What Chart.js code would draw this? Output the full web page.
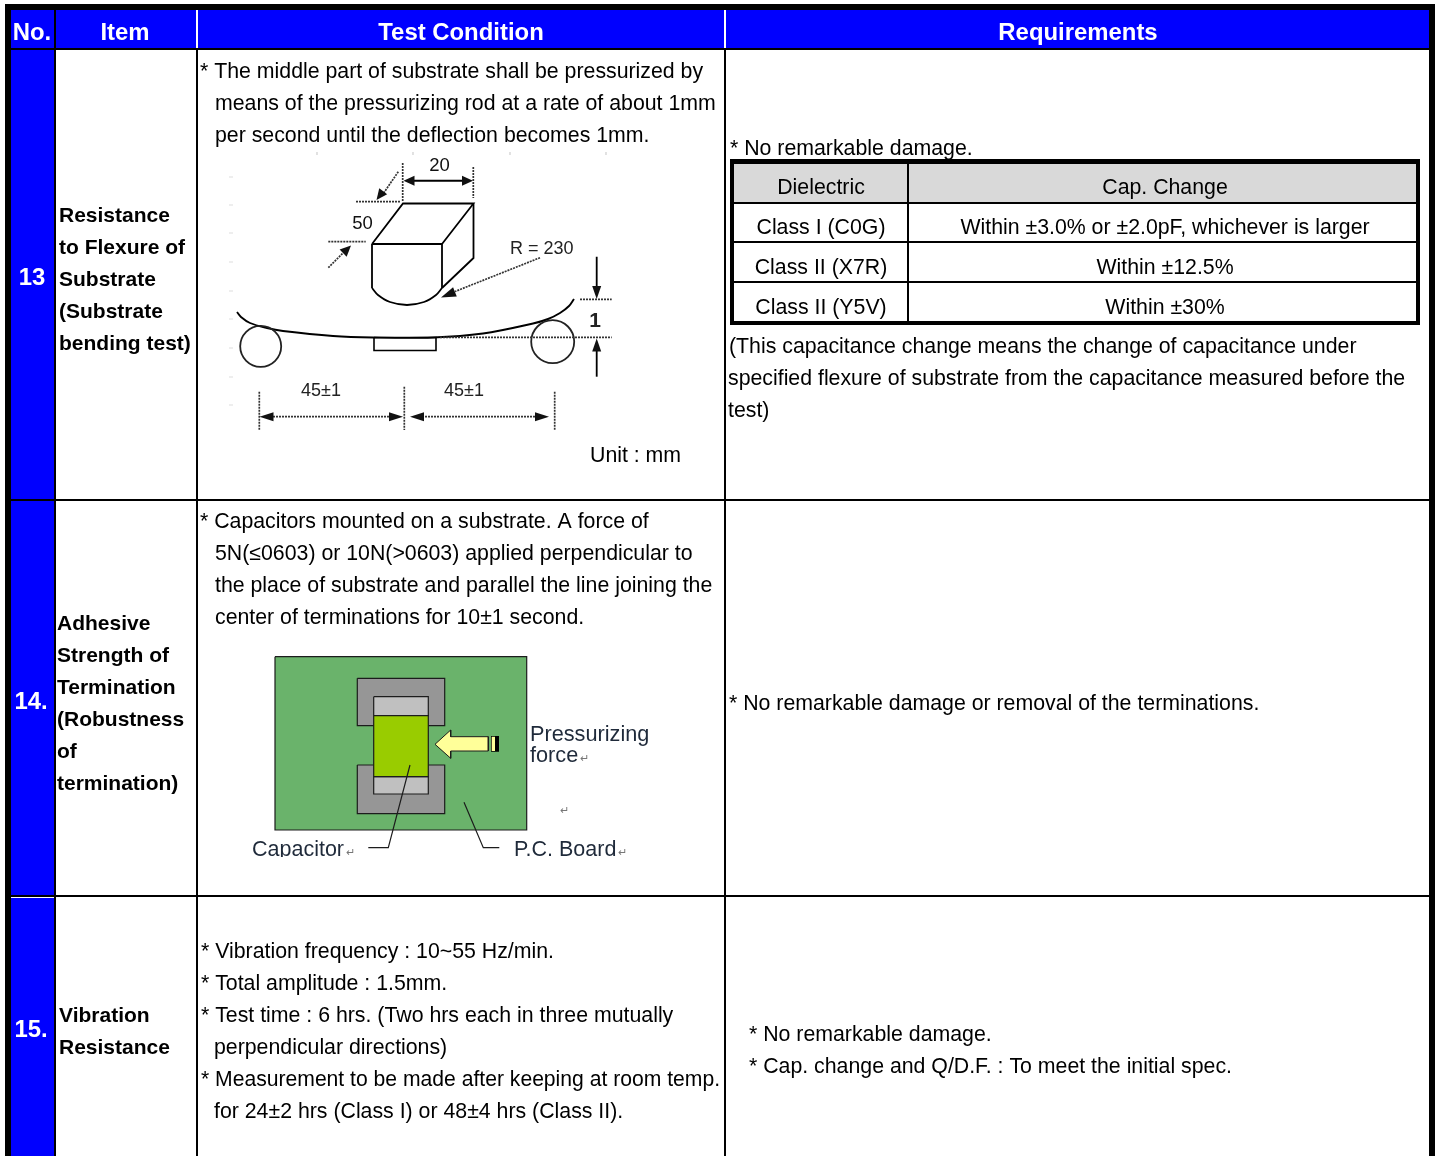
<!DOCTYPE html>
<html><head><meta charset="utf-8">
<style>html,body{margin:0;padding:0;background:#fff}canvas{display:block}</style>
<script src="https://cdn.jsdelivr.net/npm/chart.js@4/dist/chart.umd.min.js"></script>
</head><body><canvas id="c" width="1437" height="1156"></canvas>
<script>
// ---------- content ----------
const headers = ["No.", "Item", "Test Condition", "Requirements"];
const rowNumbers = ["13", "14.", "15."];
const item13 = ["Resistance", "to Flexure of", "Substrate", "(Substrate", "bending test)"];
const item14 = ["Adhesive", "Strength of", "Termination", "(Robustness", "of", "termination)"];
const item15 = ["Vibration", "Resistance"];
const cond13 = ["* The middle part of substrate shall be pressurized by", "means of the pressurizing rod at a rate of about 1mm", "per second until the deflection becomes 1mm."];
const cond14 = ["* Capacitors mounted on a substrate. A force of", "5N(≤0603) or 10N(>0603) applied perpendicular to", "the place of substrate and parallel the line joining the", "center of terminations for 10±1 second."];
const cond15 = ["* Vibration frequency : 10~55 Hz/min.", "* Total amplitude : 1.5mm.", "* Test time : 6 hrs. (Two hrs each in three mutually", "perpendicular directions)", "* Measurement to be made after keeping at room temp.", "for 24±2 hrs (Class I) or 48±4 hrs (Class II)."];
const req13a = ["* No remarkable damage."];
const req13b = ["(This capacitance change means the change of capacitance under", "specified flexure of substrate from the capacitance measured before the", "test)"];
const req14 = ["* No remarkable damage or removal of the terminations."];
const req15 = ["* No remarkable damage.", "* Cap. change and Q/D.F. : To meet the initial spec."];
const dielectricColumn = ["Dielectric", "Class I (C0G)", "Class II (X7R)", "Class II (Y5V)"];
const capChangeColumn = ["Cap. Change", "Within ±3.0% or ±2.0pF, whichever is larger", "Within ±12.5%", "Within ±30%"];
const bendLabels = ["20", "50", "R = 230", "1", "45±1", "45±1", "Unit : mm"];
const forceLabels = ["Pressurizing", "force", "Capacitor", "P.C. Board"];

// ---------- chart (hidden axes map 1:1 onto the page) ----------
const BLUE = "#0000ff", BLACK = "#000", WHITE = "#fff";
const ds = [];
function add(points, o) {
  o = o || {};
  ds.push({
    data: points.map(p => ({x: p[0], y: p[1]})), showLine: true, pointRadius: 0,
    borderColor: o.stroke || BLACK, borderWidth: o.w === undefined ? 1.8 : o.w,
    backgroundColor: o.fill || "transparent", fill: o.fill ? "shape" : false,
    tension: o.tension || 0, borderDash: o.dash || [], clip: false
  });
}
function rect(x0, y0, x1, y1, fill, w, stroke) {
  add([[x0,y0],[x1,y0],[x1,y1],[x0,y1],[x0,y0]], {fill, w: w || 0, stroke: stroke || "transparent"});
}
function ring(x, y, r) {
  ds.push({data: [{x, y}], showLine: false, pointRadius: r, pointBorderWidth: 1.8, pointBorderColor: "#222", pointBackgroundColor: "transparent", clip: false});
}
function head(tipX, tipY, fromX, fromY, len, half) {
  const d = Math.hypot(tipX-fromX, tipY-fromY), ux = (tipX-fromX)/d, uy = (tipY-fromY)/d;
  const bx = tipX-ux*len, by = tipY-uy*len;
  add([[tipX,tipY],[bx-uy*half,by+ux*half],[bx+uy*half,by-ux*half],[tipX,tipY]], {fill: "#111", w: 0, stroke: "transparent"});
}
const DOT = [2, 1];
const dotted = pts => add(pts, {dash: DOT, stroke: "#333", w: 1.7});

// table frame
rect(5, 4, 1435, 1156, BLACK);
rect(11, 10, 54, 48, BLUE); rect(56, 10, 196, 48, BLUE); rect(198, 10, 724, 48, BLUE); rect(726, 10, 1429, 48, BLUE);
rect(196, 10, 198, 48, WHITE); rect(724, 10, 726, 48, WHITE);
[[50, 499], [501, 895], [898, 1156]].forEach(([a, b]) => rect(11, a, 54, b, BLUE));
rect(11, 897, 54, 898, WHITE);
[[50, 499], [501, 895], [897, 1156]].forEach(([a, b]) => {
  rect(56, a, 196, b, WHITE); rect(198, a, 724, b, WHITE); rect(726, a, 1429, b, WHITE);
});
// inner table
rect(730, 159, 1420, 325, BLACK);
rect(734, 164, 907, 202, "#d9d9d9"); rect(909, 164, 1416, 202, "#d9d9d9");
[[204, 241], [243, 281], [283, 321]].forEach(([a, b]) => { rect(734, a, 907, b, WHITE); rect(909, a, 1416, b, WHITE); });

// bending diagram: faint registration marks
[317, 413, 510, 606].forEach(x => add([[x, 152], [x, 155]], {stroke: "#ddd", w: 1}));
[177, 205, 233, 262, 291, 319, 348, 377, 405].forEach(y => add([[229, y], [233, y]], {stroke: "#ddd", w: 1}));
// block
add([[372,244],[442,244],[442,288]]);
add([[372,244],[372,288]]);
add([[372,288],[378,295],[390,302],[407,305],[424,302],[436,295],[442,288]], {tension: .35});
add([[372,244],[403,203.5],[473.5,203.5],[442,244]]);
add([[473.5,203.5],[473.5,258],[442,288]]);
// substrate and supports
add([[237,312],[241,317],[250,323],[267,328],[283,331],[333,336],[373,337.5],[433,337.5],[483,333.5],[533,323.5],[548,319],[560,313],[569,306],[574,299]], {tension: .35, w: 1.9});
rect(374, 337.5, 436, 350.5, null, 1.6, BLACK);
ring(260.7, 346.3, 20.5); ring(552.7, 341.7, 21.5);
// dimension lines
dotted([[402.7,163],[402.7,202]]); dotted([[473.3,167],[473.3,198]]);
add([[408,180.7],[468,180.7]], {w: 2}); head(403.5,180.7,468,180.7,11,5); head(473,180.7,408,180.7,11,5);
dotted([[356,201.7],[400,201.7]]); dotted([[328.3,241.7],[365.7,241.7]]);
dotted([[398.3,171.7],[383,194]]); head(376.5,200,398.3,171.7,11,5);
dotted([[328.3,267.7],[343,253]]); head(351,245.5,328.3,267.7,11,5);
dotted([[540,257.7],[455,291.5]]); head(441,297.5,540,257.7,15,5);
add([[596.7,256.7],[596.7,290]], {w: 1.8}); head(596.7,299,596.7,256.7,13,4.5);
add([[596.7,376.7],[596.7,348]], {w: 1.8}); head(596.7,338.5,596.7,376.7,13,4.5);
dotted([[580,299.3],[611.7,299.3]]); dotted([[440,337.3],[611.7,337.3]]);
dotted([[259.3,391.7],[259.3,430]]); dotted([[404.3,386.7],[404.3,430]]); dotted([[554.7,391.7],[554.7,430]]);
dotted([[270,416.7],[392,416.7]]); head(259.5,416.7,300,416.7,14,4.5); head(403,416.7,360,416.7,14,4.5);
dotted([[422,416.7],[537,416.7]]); head(410,416.7,450,416.7,14,4.5); head(549,416.7,500,416.7,14,4.5);

// adhesive strength diagram
const E = "#1c1c1c";
rect(275, 656.7, 526.7, 830, "#6ab36b", 1.2, E);
rect(357.3, 678.3, 444.7, 725.7, "#969696", 1.2, E);
rect(357.3, 765, 444.7, 813.7, "#969696", 1.2, E);
rect(373.7, 696.7, 428.3, 715.7, "#c0c0c0", 1.2, E);
rect(373.7, 776.7, 428.3, 794, "#c0c0c0", 1.2, E);
rect(373.7, 715.7, 428.3, 776.7, "#99cc00", 1.2, E);
add([[435,744.3],[450.7,730],[450.7,736.7],[488.3,736.7],[488.3,751],[450.7,751],[450.7,758.3],[435,744.3]], {fill: "#ffff99", w: 1, stroke: E});
rect(491, 736, 499, 751.7, "#000");
rect(491.7, 736.7, 495, 751, "#ffff99");
add([[410,765],[388.3,847.7],[368.3,847.7]], {w: 1.2, stroke: E});
add([[464,802.3],[483.3,847.7],[499.3,847.7]], {w: 1.2, stroke: E});

// ---------- text ----------
const SANS = '"Liberation Sans", Arial, sans-serif';
function put(c, s, x, y, size, o) {
  o = o || {};
  c.font = (o.bold ? "bold " : "") + size + "px " + SANS;
  c.fillStyle = o.color || "#000";
  c.textAlign = o.align || "left";
  c.textBaseline = "alphabetic";
  if (o.maxWidth) c.fillText(s, x, y, o.maxWidth); else c.fillText(s, x, y);
}
function block(c, lines, xs, y, lh, size, o) {
  lines.forEach((s, i) => put(c, s, Array.isArray(xs) ? xs[i] : xs, y + i * lh, size, o));
}
const BODY = 21.3, ITEM = 21, HEAD = 23.9;
const textPlugin = { id: "tableText", afterDraw(chart) {
  const c = chart.ctx; c.save();
  [32, 125, 461, 1078].forEach((x, i) => put(c, headers[i], x, 40, HEAD, {bold: true, color: WHITE, align: "center"}));
  [[32, 285], [31, 709], [31, 1037]].forEach(([x, y], i) => put(c, rowNumbers[i], x, y, HEAD, {bold: true, color: WHITE, align: "center"}));
  block(c, item13, 59, 222, 32, ITEM, {bold: true});
  block(c, item14, 57, 630, 32, ITEM, {bold: true});
  block(c, item15, 59, 1022, 32, ITEM, {bold: true});
  block(c, cond13, [200, 215, 215], 78, 32, BODY);
  block(c, cond14, [200, 215, 215, 215], 528, 32, BODY);
  block(c, cond15, [201, 201, 201, 214, 201, 214], 958, 32, BODY, {maxWidth: 519});
  block(c, req13a, 730, 155, 32, BODY);
  block(c, req13b, [729, 728, 728], 353, 32, BODY);
  block(c, req14, 729, 710, 32, BODY);
  block(c, req15, 749, 1041, 32, BODY);
  block(c, dielectricColumn, 821, 194, 40, BODY, {align: "center"});
  block(c, capChangeColumn, 1165, 194, 40, BODY, {align: "center"});
  // bending labels
  put(c, bendLabels[0], 439.5, 171, 18.5, {align: "center", color: "#111"});
  put(c, bendLabels[1], 362.5, 229, 18.5, {align: "center", color: "#111"});
  put(c, bendLabels[2], 510, 254, 18, {color: "#222"});
  put(c, bendLabels[3], 595, 327, 21, {bold: true, align: "center", color: "#222"});
  put(c, bendLabels[4], 321, 396, 18, {align: "center", color: "#222"});
  put(c, bendLabels[5], 464, 396, 18, {align: "center", color: "#222"});
  put(c, bendLabels[6], 590, 462, BODY);
  // force labels, the bottom pair cut off as in the pasted picture
  const T = "#1f2a3a";
  put(c, forceLabels[0], 530, 741, 21.7, {color: T});
  put(c, forceLabels[1], 530, 762, 21.7, {color: T});
  c.save(); c.beginPath(); c.rect(240, 830, 420, 27); c.clip();
  put(c, forceLabels[2], 252, 856, 21.5, {color: T});
  put(c, forceLabels[3], 514, 856, 21.5, {color: T});
  c.restore();
  [[580, 762], [346, 856], [618, 856], [560, 814]].forEach(([x, y]) => put(c, "↵", x, y, 11, {color: "#777"}));
  c.restore();
}};

new Chart(document.getElementById("c"), {
  type: "scatter",
  data: { datasets: ds.map((d, i) => Object.assign(d, {order: -i})) },
  options: {
    responsive: false, animation: false, events: [],
    layout: { padding: 0, autoPadding: false },
    plugins: { legend: {display: false}, tooltip: {enabled: false}, title: {display: false} },
    scales: {
      x: { type: "linear", min: 0, max: 1437, display: false },
      y: { type: "linear", min: 0, max: 1156, reverse: true, display: false }
    }
  },
  plugins: [textPlugin]
});
</script></body></html>
